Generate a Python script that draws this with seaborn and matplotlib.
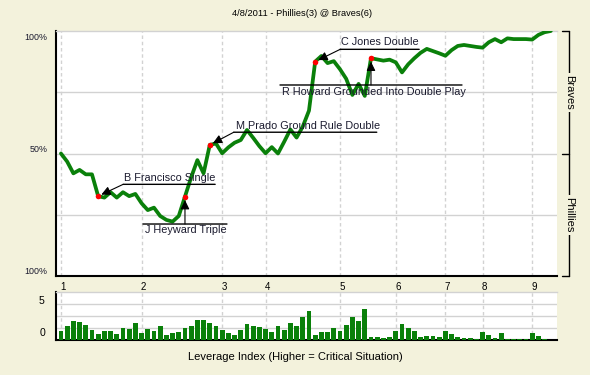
import matplotlib
matplotlib.use("Agg")
import numpy as np
import pandas as pd
import matplotlib.pyplot as plt
import seaborn as sns
from matplotlib import transforms as mtransforms

# ---------------- data ----------------
title = "4/8/2011 - Phillies(3) @ Braves(6)"
wp = [50.0, 46.7, 41.9, 43.3, 41.5, 41.5, 32.6, 32.0, 34.2, 32.0,
      34.2, 32.6, 33.5, 29.7, 26.9, 27.9, 24.5, 22.9, 22.2, 24.5,
      32.4, 40.3, 47.3, 41.9, 53.5, 54.1, 50.1, 52.5, 54.4, 55.5,
      59.6, 56.4, 53.0, 50.1, 52.6, 50.0, 54.8, 59.8, 56.5, 61.0,
      67.5, 87.5, 89.8, 86.9, 87.7, 84.4, 80.5, 73.9, 78.4, 73.5,
      88.9, 88.4, 87.9, 88.3, 87.2, 83.1, 86.4, 88.9, 91.1, 92.7,
      91.8, 90.9, 89.9, 92.2, 93.9, 94.3, 93.9, 93.5, 93.2, 95.4,
      96.7, 95.4, 97.0, 96.7, 96.7, 96.7, 96.5, 98.4, 99.5, 100.0]
leverage = [1.17, 1.75, 2.4, 2.25, 1.9, 1.25, 0.75, 1.1, 1.1, 0.75,
            1.5, 1.4, 2.1, 0.9, 1.4, 1.1, 1.75, 0.6, 0.9, 1.0,
            1.5, 1.75, 2.5, 2.5, 2.1, 1.75, 1.25, 0.9, 0.6, 1.25,
            2.0, 1.75, 1.6, 1.4, 1.0, 1.75, 1.25, 2.1, 1.75, 2.9,
            3.6, 0.6, 1.0, 1.0, 1.5, 1.1, 1.9, 2.9, 2.4, 3.9,
            0.4, 0.4, 0.25, 0.4, 1.1, 2.0, 1.5, 1.1, 0.4, 0.5,
            0.5, 0.4, 1.1, 0.75, 0.4, 0.25, 0.25, 0.1, 1.0, 0.6,
            0.25, 0.9, 0.1, 0.1, 0.1, 0.1, 0.9, 0.5, 0.1]
inning_labels = ["1", "2", "3", "4", "5", "6", "7", "8", "9"]
inning_starts = [0, 13, 26, 33, 45, 54, 62, 68, 76]
wp_tick_labels = ["100%", "50%", "100%"]
team_labels = ["Braves", "Phillies"]
event_idx = [6, 20, 24, 41, 50]
event_text = ["B Francisco Single", "J Heyward Triple",
              "M Prado Ground Rule Double", "C Jones Double",
              "R Howard Grounded Into Double Play"]
lev_tick_labels = ["0", "5"]
xlabel_text = "Leverage Index (Higher = Critical Situation)"

# ---------------- style ----------------
BG = "#f3f2dc"
GREEN = "#0a800a"
GRID = "#d2d2d2"
TXT = "#1a1a2e"

sns.set_theme(style="white")
plt.rcParams["font.family"] = ["Liberation Sans", "DejaVu Sans"]

W, H = 590, 375
fig = plt.figure(figsize=(W / 100, H / 100), dpi=100, facecolor=BG)
L, R = 56, 557
ax = fig.add_axes([L / W, 1 - 276 / H, (R - L) / W, 245 / H])
axb = fig.add_axes([L / W, 1 - 340 / H, (R - L) / W, 48 / H])

df = pd.DataFrame({"play": np.arange(len(wp)), "wp": wp})
dfl = pd.DataFrame({"play": np.arange(len(leverage)), "li": leverage})

XLIM = (-0.8, 80.0)

# ---- win probability ----
ax.set_facecolor("white")
for v in inning_starts:
    ax.axvline(v, color=GRID, lw=1, ls=(0, (2.5, 2)), zorder=0)
for v in [25, 50, 75]:
    ax.axhline(v, color=GRID, lw=1, zorder=0)
sns.lineplot(data=df, x="play", y="wp", ax=ax, color=GREEN, lw=2.7,
             zorder=3, estimator=None)
ev_df = pd.DataFrame({"play": event_idx, "wp": [wp[i] for i in event_idx]})
sns.scatterplot(data=ev_df, x="play", y="wp", ax=ax, color="red", s=16,
                linewidth=0, zorder=5)
ax.set_xlim(*XLIM)
ax.set_ylim(0, 100)
ax.set_xlabel("")
ax.set_ylabel("")
ax.spines["right"].set_visible(False)
ax.spines["top"].set_color(GRID)
ax.spines["top"].set_linewidth(1)
ax.spines["left"].set_color("black")
ax.spines["left"].set_linewidth(1.5)
ax.spines["bottom"].set_color("black")
ax.spines["bottom"].set_linewidth(1.5)

ax.set_yticks([100, 50, 0])
ax.set_yticklabels(wp_tick_labels, fontsize=6.4, color=TXT)
ax.tick_params(axis="y", length=0, pad=6)
ylabs = ax.get_yticklabels()
ylabs[0].set_va("top")
ylabs[0].set_transform(ylabs[0].get_transform() +
                       mtransforms.ScaledTranslation(0, -2.5 / 100, fig.dpi_scale_trans))
ylabs[1].set_va("bottom")
ylabs[2].set_va("bottom")

ax.set_xticks(inning_starts)
ax.set_xticklabels(inning_labels, fontsize=7, color="black")
ax.tick_params(axis="x", length=0, pad=4.5)
off = mtransforms.ScaledTranslation(2 / 100, 0, fig.dpi_scale_trans)
for lab in ax.get_xticklabels():
    lab.set_transform(lab.get_transform() + off)

# annotations: (line x0, line x1, line dy, text dx, text dy, va, arrow dx) in pixels
layout = [
    (25, 117, 11.8, 26, 15.4, "baseline", 25),
    (-42, 42, -27.4, -40, -28.7, "top", 0),
    (24, 167, 12.7, 26, 15.7, "baseline", 24),
    (25, 104, 12.3, 26, 16.4, "baseline", 25),
    (-91, 91, -26.8, -88.7, -29.0, "top", 0),
]
for k, txt, (x0, x1, ldy, tdx, tdy, va, adx) in zip(event_idx, event_text, layout):
    pt = (k, wp[k])
    tr = mtransforms.offset_copy(ax.transData, fig=fig, x=x1, y=ldy, units="dots")
    ax.annotate("", xy=pt, xycoords=tr, xytext=(x0 - x1, 0),
                textcoords="offset pixels",
                arrowprops=dict(arrowstyle="-", color="black", lw=1,
                                shrinkA=0, shrinkB=0), annotation_clip=False)
    ax.annotate("", xy=pt, xytext=(adx, ldy), textcoords="offset pixels",
                arrowprops=dict(arrowstyle="-|>,head_length=0.45,head_width=0.22",
                                color="black", lw=0.8, shrinkA=0, shrinkB=2.5),
                zorder=6)
    ax.annotate(txt, xy=pt, xytext=(tdx, tdy), textcoords="offset pixels",
                ha="left", va=va, fontsize=7.8, color=TXT, zorder=6)

# right bracket with team labels
bx = 1 + 12.3 / (R - L)
tx0 = 1 + 5 / (R - L)
ax.plot([bx, bx], [0, 1], transform=ax.transAxes, color="black", lw=1,
        clip_on=False)
for yy in [0, 0.5, 1]:
    ax.plot([tx0, bx], [yy, yy], transform=ax.transAxes, color="black", lw=1,
            clip_on=False)
for lab, yy in zip(team_labels, [0.75, 0.25]):
    ax.text(bx, yy, lab, transform=ax.transAxes, rotation=270, ha="center",
            va="center", fontsize=8, color="black",
            bbox=dict(facecolor=BG, edgecolor="none", pad=1.5))

# ---- leverage bars ----
axb.set_facecolor("white")
for v in inning_starts:
    axb.axvline(v, color=GRID, lw=1, ls=(0, (2.5, 2)), zorder=0)
for v in [1.5, 3, 4.5]:
    axb.axhline(v, color=GRID, lw=1, zorder=0)
sns.barplot(data=dfl, x="play", y="li", ax=axb, color=GREEN, native_scale=True,
            width=0.76, saturation=1, linewidth=0, zorder=3)
axb.set_xlim(*XLIM)
axb.set_ylim(0, 6)
axb.set_xlabel("")
axb.set_ylabel("")
axb.set_xticks([])
axb.spines["right"].set_visible(False)
axb.spines["top"].set_color(GRID)
axb.spines["top"].set_linewidth(1)
axb.spines["left"].set_color("black")
axb.spines["left"].set_linewidth(1.5)
axb.spines["bottom"].set_color("black")
axb.spines["bottom"].set_linewidth(1.5)
axb.set_yticks([0, 5])
axb.set_yticklabels(lev_tick_labels, fontsize=7.6, color="black")
axb.tick_params(axis="y", length=0, pad=8)
axb.get_yticklabels()[0].set_va("bottom")
axb.get_yticklabels()[0].set_transform(
    axb.get_yticklabels()[0].get_transform() +
    mtransforms.ScaledTranslation(0, 1.5 / 100, fig.dpi_scale_trans))

fig.text(295 / W, 1 - 360.5 / H, xlabel_text, ha="center", va="baseline",
         fontsize=8, color="black")
fig.text(302.5 / W, 1 - 16 / H, title, ha="center", va="baseline",
         fontsize=6.7, color="black")

fig.savefig("out.png", dpi=100, facecolor=BG)
